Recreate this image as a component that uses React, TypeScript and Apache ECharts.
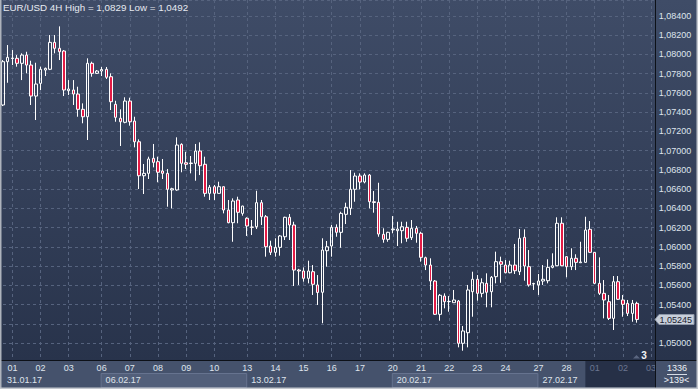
import { useEffect, useRef } from 'react';
import * as echarts from 'echarts';

// ---- data (EUR/USD 4H candles) ----
const opens = [
  1.07473, 1.07923, 1.07956, 1.07958, 1.07906, 1.07992, 1.07888, 1.07566, 1.07698, 1.07836,
  1.07844, 1.08124, 1.08062, 1.08034, 1.07621, 1.07629, 1.07587, 1.07428, 1.07351, 1.07906,
  1.07802, 1.07826, 1.07844, 1.07767, 1.0748, 1.07335, 1.07293, 1.07514, 1.07306, 1.07091,
  1.06738, 1.06763, 1.06919, 1.06884, 1.06787, 1.06763, 1.0659, 1.0659, 1.07064, 1.06873,
  1.06865, 1.06867, 1.06995, 1.06857, 1.06555, 1.06624, 1.06555, 1.06624, 1.06382, 1.0625,
  1.06486, 1.06347, 1.06296, 1.06205, 1.06208, 1.06458, 1.06312, 1.06008, 1.05942, 1.05994,
  1.06104, 1.06306, 1.06226, 1.05758, 1.05748, 1.05672, 1.05741, 1.05603, 1.05527, 1.05959,
  1.06008, 1.06202, 1.0615, 1.06337, 1.06399, 1.06597, 1.06735, 1.06673, 1.06745, 1.06468,
  1.06462, 1.06129, 1.06077, 1.06177, 1.06167, 1.06167, 1.06202, 1.06094, 1.06192, 1.0614,
  1.05886, 1.0581, 1.05644, 1.05298, 1.05488, 1.05431, 1.05419, 1.05436, 1.04997, 1.05107,
  1.05533, 1.05662, 1.05516, 1.0562, 1.05533, 1.05689, 1.05845, 1.0581, 1.0573, 1.0581,
  1.05741, 1.06098, 1.05793, 1.05613, 1.05603, 1.05644, 1.05647, 1.05786, 1.05803, 1.06244,
  1.05897, 1.05793, 1.0588, 1.05834, 1.05838, 1.06181, 1.05942, 1.0562, 1.05516, 1.05429,
  1.05256, 1.05637, 1.05447, 1.05412, 1.05308, 1.05412,
];
const closes = [
  1.07923, 1.07968, 1.07961, 1.07906, 1.07992, 1.07888, 1.07566, 1.07691, 1.07844, 1.07854,
  1.08124, 1.08062, 1.08026, 1.07629, 1.07639, 1.07587, 1.07428, 1.07351, 1.07906, 1.07802,
  1.07826, 1.07842, 1.07761, 1.07507, 1.07345, 1.07299, 1.07514, 1.07299, 1.07091, 1.06738,
  1.06763, 1.06912, 1.06877, 1.06774, 1.06763, 1.06597, 1.06603, 1.07057, 1.06867, 1.06857,
  1.0687, 1.06995, 1.06842, 1.06555, 1.06618, 1.06555, 1.06624, 1.06382, 1.0625, 1.06475,
  1.06358, 1.06423, 1.06216, 1.06202, 1.06458, 1.06312, 1.06, 1.05942, 1.05994, 1.06112,
  1.06306, 1.06226, 1.05758, 1.05748, 1.05672, 1.05748, 1.0561, 1.05525, 1.05966, 1.06,
  1.06202, 1.0615, 1.06347, 1.0641, 1.06597, 1.06735, 1.06673, 1.06745, 1.06468, 1.0646,
  1.06132, 1.06077, 1.0615, 1.06184, 1.06184, 1.06208, 1.06088, 1.06192, 1.0614, 1.0589,
  1.0581, 1.05644, 1.05298, 1.05496, 1.05429, 1.05431, 1.05447, 1.04997, 1.05125, 1.05551,
  1.05662, 1.05516, 1.05626, 1.05527, 1.05683, 1.05845, 1.05818, 1.0573, 1.0581, 1.05751,
  1.06088, 1.058, 1.05603, 1.05618, 1.05644, 1.05662, 1.05786, 1.05803, 1.06244, 1.05803,
  1.05793, 1.0588, 1.05838, 1.05842, 1.06174, 1.05942, 1.0562, 1.05516, 1.05447, 1.05256,
  1.05637, 1.05454, 1.05402, 1.05308, 1.05412, 1.05245,
];
const lows = [
  1.07462, 1.07704, 1.07888, 1.07871, 1.07732, 1.07802, 1.07473, 1.07317, 1.07629, 1.07774,
  1.07836, 1.0801, 1.0794, 1.07566, 1.07577, 1.07473, 1.07351, 1.07283, 1.07109, 1.07767,
  1.07795, 1.07774, 1.07743, 1.07421, 1.07299, 1.07047, 1.07283, 1.07258, 1.07033, 1.066,
  1.06548, 1.06704, 1.06825, 1.0667, 1.06704, 1.06416, 1.06399, 1.06582, 1.06774, 1.06808,
  1.06763, 1.06686, 1.06745, 1.0652, 1.06486, 1.06486, 1.06553, 1.06347, 1.06244, 1.06052,
  1.06244, 1.06323, 1.06112, 1.06122, 1.06184, 1.06226, 1.05897, 1.05914, 1.05897, 1.05907,
  1.0607, 1.0607, 1.05592, 1.05603, 1.05637, 1.0562, 1.05499, 1.05395, 1.05205, 1.05793,
  1.05897, 1.06104, 1.0599, 1.06236, 1.0633, 1.06468, 1.06597, 1.06659, 1.06399, 1.06354,
  1.06104, 1.06042, 1.06052, 1.0614, 1.06008, 1.06036, 1.06052, 1.0607, 1.06042, 1.05845,
  1.05758, 1.05551, 1.05291, 1.05232, 1.0536, 1.05325, 1.05419, 1.04955, 1.0492, 1.04955,
  1.05273, 1.0544, 1.05475, 1.05371, 1.05371, 1.0562, 1.05626, 1.05724, 1.05724, 1.05717,
  1.05706, 1.05647, 1.05585, 1.05551, 1.05499, 1.05603, 1.0562, 1.05776, 1.058, 1.058,
  1.05683, 1.05758, 1.05758, 1.05834, 1.05834, 1.05938, 1.05613, 1.05499, 1.05256, 1.05239,
  1.05135, 1.05447, 1.05273, 1.0528, 1.05221, 1.05211,
];
const highs = [
  1.0794, 1.08096, 1.08044, 1.07992, 1.0801, 1.08026, 1.07933, 1.07912, 1.07871, 1.07862,
  1.082, 1.082, 1.0829, 1.08044, 1.07732, 1.07732, 1.07663, 1.0749, 1.07958, 1.07923,
  1.07836, 1.07868, 1.07868, 1.07802, 1.07517, 1.07428, 1.07553, 1.07549, 1.07351, 1.07116,
  1.0686, 1.06936, 1.07068, 1.06936, 1.06912, 1.06808, 1.06613, 1.07137, 1.07075, 1.06987,
  1.06943, 1.07068, 1.07085, 1.06936, 1.06642, 1.06642, 1.06676, 1.06626, 1.06486, 1.06503,
  1.0652, 1.06426, 1.06306, 1.06278, 1.06582, 1.06486, 1.0633, 1.06063, 1.06088, 1.06122,
  1.06312, 1.0634, 1.0626, 1.0577, 1.05786, 1.05855, 1.0581, 1.05706, 1.06088, 1.0606,
  1.06226, 1.06233, 1.06364, 1.06458, 1.06797, 1.06769, 1.06763, 1.06763, 1.06756, 1.06579,
  1.06665, 1.06192, 1.06156, 1.06319, 1.0626, 1.0626, 1.0626, 1.06278, 1.06216, 1.06156,
  1.05897, 1.0588, 1.05654, 1.05509, 1.05516, 1.05488, 1.05551, 1.05447, 1.05177, 1.05603,
  1.05741, 1.05706, 1.05672, 1.05724, 1.05696, 1.05949, 1.05897, 1.05862, 1.05855, 1.06029,
  1.06184, 1.06181, 1.05966, 1.05626, 1.05717, 1.0581, 1.0587, 1.05932, 1.06306, 1.06306,
  1.05904, 1.05984, 1.05922, 1.06052, 1.06312, 1.06267, 1.05945, 1.0589, 1.05654, 1.05499,
  1.05696, 1.05696, 1.05499, 1.05447, 1.05447, 1.05429,
];

// day labels and the bar index at which each day starts
const dayLabels = ['01', '02', '03', '06', '07', '08', '09', '10', '13', '14', '15', '16', '17', '20', '21', '22', '23', '24', '27', '28', '01', '02', '03'];
const dayStarts = [2, 8, 14, 21, 27, 33, 39, 45, 52, 58, 64, 70, 76, 83, 89, 95, 101, 107, 114, 120, 126, 132, 138];
// week labels and their starting bar
const weekLabels = ['31.01.17', '06.02.17', '13.02.17', '20.02.17', '27.02.17'];
const weekStarts = [0, 21, 52, 83, 114];
const slotCount = 140; // bar slots on the visible axis
const futureStart = 124; // first slot of the greyed area in the time scale
const yRange = { min: 1.048, max: 1.08564, step: 0.002, firstLabel: 1.05, lastLabel: 1.084 };
const barsTotal = '1336';
const barsVisible = '>139<';
const ordersCount = '3';

const FONT = "'Liberation Sans', Arial, sans-serif";
const fmt = (v: number, d: number) => v.toFixed(d).replace('.', ',');

export default function App() {
  const ref = useRef<HTMLDivElement | null>(null);

  useEffect(() => {
    if (!ref.current) return;
    const chart = echarts.init(ref.current, undefined, { renderer: 'svg' });

    const categories = Array.from({ length: slotCount }, (_, i) => String(i));
    const dayMap = new Map<number, string>(dayStarts.map((s, k) => [s, dayLabels[k]]));
    const weekMap = new Map<number, string>(weekStarts.map((s, k) => [s, weekLabels[k]]));
    const ohlc = opens.map((o, i) => [o, closes[i], lows[i], highs[i]]);
    const last = closes[closes.length - 1];
    const hi = Math.max(...highs);
    const lo = Math.min(...lows);

    const lblColor = '#dfe4ec';
    const gridColor = '#56637e';
    const tagColor = '#c8cfda';

    chart.setOption({
      animation: false,
      backgroundColor: new echarts.graphic.LinearGradient(0, 0, 0, 1, [
        { offset: 0, color: '#3f4c67' },
        { offset: 0.93, color: '#28334b' },
        { offset: 1, color: '#26314a' },
      ]),
      textStyle: { fontFamily: FONT },
      title: {
        text: `EUR/USD 4H High = ${fmt(hi, 4)} Low = ${fmt(lo, 4)}`,
        left: 3,
        top: 2.5,
        padding: 0,
        textStyle: { color: '#e6eaf1', fontSize: 9.8, fontWeight: 'normal', fontFamily: FONT },
      },
      grid: { left: 3, right: 42.2, top: 0, bottom: 26.75, containLabel: false },
      xAxis: [
        {
          type: 'category',
          data: categories,
          boundaryGap: false,
          axisLine: { show: false },
          axisTick: { show: false },
          axisLabel: { show: false },
          splitLine: {
            show: true,
            interval: (i: number) => dayMap.has(i),
            lineStyle: { color: gridColor, type: [3, 3], width: 1 },
          },
        },
        {
          type: 'category',
          data: categories,
          boundaryGap: false,
          position: 'bottom',
          z: 20,
          axisLine: { show: false },
          axisTick: { show: false },
          splitLine: { show: false },
          axisLabel: {
            interval: (i: number) => dayMap.has(i),
            formatter: (_v: string, i: number) => dayMap.get(i) ?? '',
            color: (v: any) => (Number(v) >= futureStart ? '#6b7690' : lblColor),
            fontSize: 9,
            fontFamily: FONT,
            margin: 1,
          },
        },
        {
          type: 'category',
          data: categories,
          boundaryGap: false,
          position: 'bottom',
          z: 20,
          axisLine: { show: false },
          axisTick: { show: false },
          splitLine: { show: false },
          axisLabel: {
            interval: (i: number) => weekMap.has(i),
            formatter: (_v: string, i: number) => weekMap.get(i) ?? '',
            align: 'left',
            padding: [0, 0, 0, 4],
            color: lblColor,
            fontSize: 9,
            fontFamily: FONT,
            margin: 13,
          },
        },
      ],
      yAxis: {
        type: 'value',
        position: 'right',
        min: yRange.min,
        max: yRange.max,
        interval: yRange.step,
        axisLine: { show: false },
        axisTick: { show: false },
        splitLine: { show: true, lineStyle: { color: gridColor, type: [3, 3], width: 1 } },
        axisLabel: {
          margin: 3,
          color: lblColor,
          fontSize: 9,
          fontFamily: FONT,
          showMinLabel: false,
          showMaxLabel: false,
          // labels outside the shown range, or hidden under the last-price tag, stay empty
          formatter: (v: number) =>
            v < yRange.firstLabel - 1e-6 ||
            v > yRange.lastLabel + 1e-6 ||
            Math.abs(v - last) < yRange.step * 0.6
              ? ''
              : fmt(v, 5),
        },
      },
      series: [
        {
          type: 'candlestick',
          xAxisIndex: 0,
          data: ohlc,
          barWidth: 3,
          clip: true,
          z: 5,
          itemStyle: {
            color: 'rgba(0,0,0,0)',
            color0: '#e31b45',
            borderColor: '#ffffff',
            borderColor0: '#ffffff',
            borderWidth: 1,
          },
        },
      ],
    });

    const px = (i: number) => chart.convertToPixel({ xAxisIndex: 0 }, i) as unknown as number;
    const py = (v: number) => chart.convertToPixel({ yAxisIndex: 0 }, v) as unknown as number;
    const W = 698;
    const H = 389;
    const axisX = 655.5;
    const bandTop = 361;

    const weekBoxes: any[] = [];
    for (let k = 1; k < weekStarts.length - 1; k += 2) {
      const x0 = px(weekStarts[k]) - 1;
      const x1 = px(weekStarts[k + 1]) - 1;
      weekBoxes.push({
        type: 'rect',
        z: 11,
        shape: { x: x0 + 0.5, y: 373.5, width: x1 - x0, height: 14 },
        style: { fill: '#525f7a', stroke: '#66738f', lineWidth: 1 },
      });
    }
    const fx = px(futureStart);
    const ty = Math.round(py(last)) + 0.5;

    chart.setOption({
      graphic: [
        { type: 'rect', z: 10, shape: { x: 0, y: bandTop, width: W, height: H - bandTop }, style: { fill: '#45526c' } },
        ...weekBoxes,
        { type: 'rect', z: 11, shape: { x: fx, y: bandTop, width: axisX - fx, height: 26.5 }, style: { fill: '#263047' } },
        { type: 'rect', z: 25, shape: { x: axisX + 0.5, y: bandTop, width: W - axisX, height: H - bandTop }, style: { fill: '#45526c' } },
        { type: 'text', z: 26, style: { x: 677, y: 368, text: barsTotal, align: 'center', verticalAlign: 'middle', fill: '#eef1f6', font: `9px ${FONT}` } },
        { type: 'line', z: 26, shape: { x1: 667, y1: 374.5, x2: 687, y2: 374.5 }, style: { stroke: '#d7dce5', lineWidth: 1 } },
        { type: 'text', z: 26, style: { x: 676.5, y: 380, text: barsVisible, align: 'center', verticalAlign: 'middle', fill: '#eef1f6', font: `9px ${FONT}` } },
        { type: 'line', z: 27, shape: { x1: 0, y1: 360.5, x2: W, y2: 360.5 }, style: { stroke: '#0d1118', lineWidth: 1 } },
        { type: 'line', z: 27, shape: { x1: axisX, y1: 0, x2: axisX, y2: H }, style: { stroke: '#0d1118', lineWidth: 1 } },
        {
          type: 'polygon',
          z: 28,
          shape: { points: [[axisX - 0.5, ty], [axisX + 3.5, ty - 5], [694, ty - 5], [694, ty + 5], [axisX + 3.5, ty + 5]] },
          style: { fill: tagColor, stroke: '#8d97a8', lineWidth: 1 },
        },
        { type: 'text', z: 29, style: { x: 659.5, y: ty + 0.5, text: fmt(last, 5), align: 'left', verticalAlign: 'middle', fill: '#1a2131', font: `9px ${FONT}` } },
        { type: 'polygon', z: 26, shape: { points: [[633, 358.5], [636.5, 355], [640, 358.5]] }, style: { fill: '#5a6680' } },
        { type: 'text', z: 26, style: { x: 644, y: 355.5, text: ordersCount, align: 'center', verticalAlign: 'middle', fill: '#f2f4f8', font: `bold 10px ${FONT}` } },
        { type: 'rect', z: 30, shape: { x: 0, y: 0, width: 1.5, height: H }, style: { fill: '#aeb3bc' } },
        { type: 'rect', z: 30, shape: { x: W - 1.5, y: 0, width: 1.5, height: H }, style: { fill: '#c3c7ce' } },
        { type: 'rect', z: 30, shape: { x: 0, y: H - 1.5, width: W, height: 1.5 }, style: { fill: '#c3c7ce' } },
      ],
    });

    return () => {
      chart.dispose();
    };
  }, []);

  return (
    <div style={{ position: 'fixed', left: 0, top: 0, width: 698, height: 389, overflow: 'hidden' }}>
      <div ref={ref} style={{ width: 698, height: 389 }} />
    </div>
  );
}
